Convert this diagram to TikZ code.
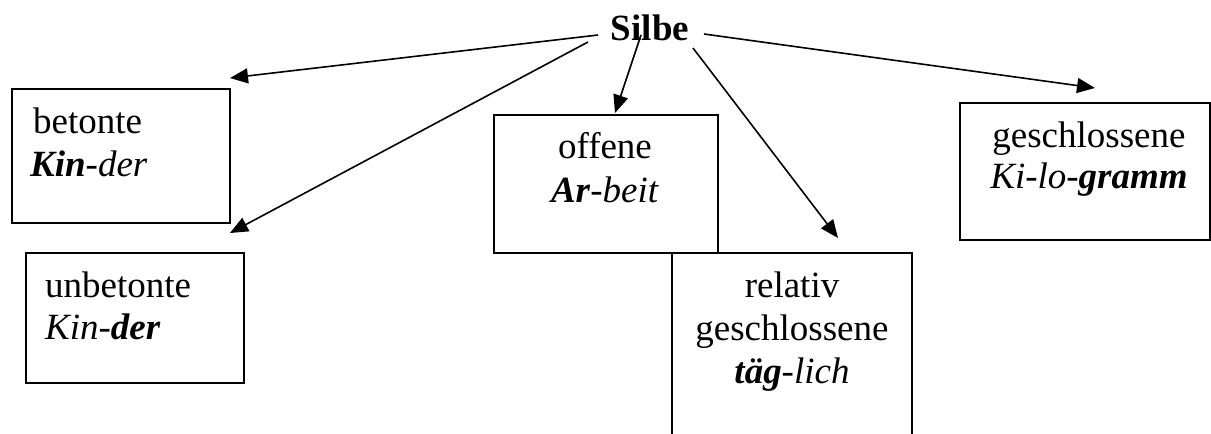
\documentclass[tikz,border=0pt]{standalone}
\usepackage{fontspec}
\setmainfont{Liberation Serif}
\usetikzlibrary{arrows.meta}
\begin{document}
\begin{tikzpicture}[x=1pt,y=-1pt,
  box/.style={draw,line width=1.8pt,inner sep=0pt,anchor=north west},
  txt/.style={inner sep=0pt,font=\fontsize{37}{43}\selectfont},
  arr/.style={line width=1.6pt,-{Triangle[length=18pt,width=15pt]}}]
\useasboundingbox (0,0) rectangle (1211,434);
\clip (0,0) rectangle (1211,434);
% boxes
\node[box,minimum width=218pt,minimum height=134pt] (bet) at (11,88) {};
\node[box,minimum width=218pt,minimum height=130pt] (unbet) at (25,252) {};
\node[box,minimum width=224pt,minimum height=138pt] (off) at (493,114) {};
\node[box,minimum width=240pt,minimum height=220pt] (rel) at (671,252) {};
\node[box,minimum width=250pt,minimum height=137pt] (ges) at (959,102) {};
% title
\node[txt,anchor=base,font=\fontsize{37}{43}\selectfont\bfseries] (silbe) at (650,40) {Silbe};
% texts
\node[txt,anchor=base west] (t1a) at (33,133) {betonte};
\node[txt,anchor=base west] (t1b) at (30,176) {\textbf{\textit{Kin}}\textit{-der}};
\node[txt,anchor=base west] (t2a) at (45,297) {unbetonte};
\node[txt,anchor=base west] (t2b) at (45,339) {\textit{Kin-}\textbf{\textit{der}}};
\node[txt,anchor=base] (t3a) at (605,158) {offene};
\node[txt,anchor=base] (t3b) at (605,202) {\textbf{\textit{Ar}}\textit{-beit}};
\node[txt,anchor=base] (t4a) at (792,297) {relativ};
\node[txt,anchor=base] (t4b) at (792,340) {geschlossene};
\node[txt,anchor=base] (t4c) at (792,383) {\textbf{\textit{täg}}\textit{-lich}};
\node[txt,anchor=base] (t5a) at (1089,147) {geschlossene};
\node[txt,anchor=base] (t5b) at (1089,188) {\textit{Ki-lo-}\textbf{\textit{gramm}}};
% arrow ends
\coordinate (s1) at (598,35);  \coordinate (e1) at (230,78);
\coordinate (s2) at (588,42);  \coordinate (e2) at (230,233);
\coordinate (s3) at (641,35);  \coordinate (e3) at (615,113);
\coordinate (s4) at (693,48);  \coordinate (e4) at (838,238);
\coordinate (s5) at (704,34);  \coordinate (e5) at (1095,88);
\draw[arr] (s1) -- (e1);
\draw[arr] (s2) -- (e2);
\draw[arr] (s3) -- (e3);
\draw[arr] (s4) -- (e4);
\draw[arr] (s5) -- (e5);
\end{tikzpicture}
\end{document}
